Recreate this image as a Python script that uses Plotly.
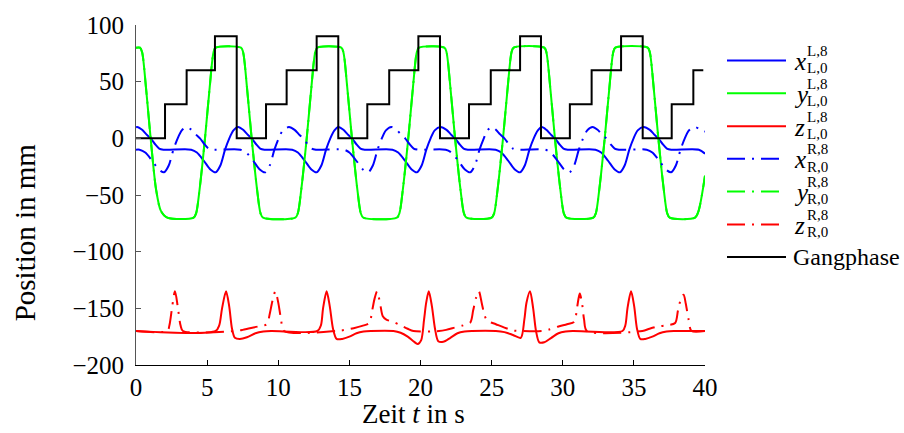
import plotly.graph_objects as go

# ---------------- data ----------------
t_xL = [0, 0.08, 0.43, 0.73, 1.03, 1.33, 1.63, 1.93, 3.88, 4.28, 4.78, 5.23, 5.6, 5.93, 6.26, 6.56, 6.85, 7.18,
        7.53, 7.83, 8.13, 8.43, 8.73, 9.03, 10.98, 11.38, 11.88, 12.33, 12.7, 13.03, 13.36, 13.66, 13.95, 14.23,
        14.58, 14.88, 15.18, 15.48, 15.78, 16.08, 18.03, 18.43, 18.93, 19.38, 19.75, 20.08, 20.41, 20.71, 21.0, 21.4,
        21.83, 22.13, 22.43, 22.73, 23.03, 23.33, 25.28, 25.68, 26.18, 26.63, 27.0, 27.33, 27.66, 27.96, 28.25, 28.52,
        28.85, 29.15, 29.45, 29.75, 30.05, 30.35, 32.3, 32.7, 33.2, 33.65, 34.02, 34.35, 34.68, 34.98, 35.27, 35.68,
        36.12, 36.42, 36.72, 37.02, 37.32, 37.62, 39.57, 40.0]
xL = [9.5, 10, 7.5, 3.5, 0, -5, -9, -10, -10, -12.5, -20, -27.5, -30, -24, -10, 0, 7, 10,
      7.5, 3.5, 0, -5, -9, -10, -10, -12.5, -20, -27.5, -30, -24, -10, 0, 7, 10,
      7.5, 3.5, 0, -5, -9, -10, -10, -12.5, -20, -27.5, -30, -24, -10, 0, 7, 10,
      7.5, 3.5, 0, -5, -9, -10, -10, -12.5, -20, -27.5, -30, -24, -10, 0, 7, 10,
      7.5, 3.5, 0, -5, -9, -10, -10, -12.5, -20, -27.5, -30, -24, -10, 0, 7, 10,
      7.5, 3.5, 0, -5, -9, -10, -10, -13.5]

t_yL = [0, 0.28, 0.43, 0.70, 1.03, 1.41, 1.75, 2.2,
        4.05, 4.23, 4.47, 4.85, 5.18, 5.45, 5.6,
        7.38, 7.53, 7.8, 8.13, 8.51, 8.75, 8.93,
        11.2, 11.38, 11.62, 12.0, 12.33, 12.6, 12.75,
        14.43, 14.58, 14.85, 15.18, 15.56, 15.8, 15.98,
        18.34, 18.52, 18.76, 19.14, 19.47, 19.74, 19.89,
        21.68, 21.83, 22.1, 22.43, 22.81, 23.05, 23.23,
        25.0, 25.18, 25.42, 25.8, 26.13, 26.4, 26.55,
        28.7, 28.85, 29.12, 29.45, 29.83, 30.07, 30.25,
        32.15, 32.33, 32.57, 32.95, 33.28, 33.55, 33.7,
        35.97, 36.12, 36.39, 36.72, 37.1, 37.34, 37.52,
        39.3, 39.55, 40.0]
yL = [80, 80, 76, 45, 0, -45, -64, -70,
      -70, -66, -45, 0, 45, 76, 80,
      80, 76, 45, 0, -45, -66, -70,
      -70, -66, -45, 0, 45, 76, 80,
      80, 76, 45, 0, -45, -66, -70,
      -70, -66, -45, 0, 45, 76, 80,
      80, 76, 45, 0, -45, -66, -70,
      -70, -66, -45, 0, 45, 76, 80,
      80, 76, 45, 0, -45, -66, -70,
      -70, -66, -45, 0, 45, 76, 80,
      80, 76, 45, 0, -45, -66, -70,
      -70, -64, -33]

t_zL = [0, 5.6, 5.85, 6.05, 6.33, 6.55, 6.75, 6.95, 7.3, 7.8, 8.4, 8.95, 9.5,
        12.75, 13.0, 13.15, 13.4, 13.62, 13.85, 14.1, 14.5, 15.0, 15.5, 16.0, 16.5,
        18.1, 18.6, 19.1, 19.5, 19.8, 20.05, 20.25, 20.4, 20.58, 20.8, 21.02, 21.25, 21.6, 22.1, 22.6, 23.1, 23.6,
        25.3, 25.9, 26.5, 27.05, 27.3, 27.45, 27.7, 27.92, 28.12, 28.35, 28.7, 29.2, 29.7, 30.2, 30.7,
        34.2, 34.4, 34.55, 34.8, 35.02, 35.22, 35.45, 35.8, 36.3, 36.8, 37.3, 37.8, 40]
zL = [-170, -170, -165, -150, -135, -148, -168, -176, -177, -175.5, -172, -170.5, -170,
      -170, -165, -150, -135, -148, -168, -177, -177, -175, -172, -170.5, -170,
      -170, -171.5, -175, -179, -181.5, -178, -160, -145, -135, -148, -168, -179, -179.5, -176, -172, -170.5, -170,
      -170, -171, -173.5, -176, -160, -145, -135, -150, -170, -180, -180, -176, -172, -170.5, -170,
      -170, -165, -150, -135, -148, -168, -177, -177, -175, -172, -170.5, -170, -170]

t_xR = [0, 0.25, 0.65, 1.15, 1.6, 1.97, 2.3, 2.63, 2.93, 3.22, 3.55,
        3.9, 4.2, 4.5, 4.8, 5.1, 5.4, 7.35, 7.75, 8.25, 8.7, 9.07, 9.4, 9.73, 10.03, 10.32, 10.75,
        11.15, 11.45, 11.75, 12.05, 12.35, 12.65, 14.6, 15.0, 15.5, 15.95, 16.32, 16.65, 16.98, 17.28, 17.57, 17.95,
        18.32, 18.62, 18.92, 19.22, 19.52, 19.82, 21.77, 22.17, 22.67, 23.12, 23.49, 23.82, 24.15, 24.45, 24.7, 25.0,
        25.3, 25.6, 25.9, 26.2, 26.5, 26.8, 28.75, 29.15, 29.65, 30.1, 30.47, 30.8, 31.13, 31.43, 31.72, 32.1,
        32.45, 32.75, 33.05, 33.35, 33.65, 33.95, 35.9, 36.3, 36.8, 37.25, 37.62, 37.95, 38.28, 38.58, 38.87, 39.25,
        39.65, 40.0]
xR = [-10, -10, -12.5, -20, -27.5, -30, -24, -10, 0, 7, 10,
      7.5, 3.5, 0, -5, -9, -10, -10, -12.5, -20, -27.5, -30, -24, -10, 0, 7, 10,
      7.5, 3.5, 0, -5, -9, -10, -10, -12.5, -20, -27.5, -30, -24, -10, 0, 7, 10,
      7.5, 3.5, 0, -5, -9, -10, -10, -12.5, -20, -27.5, -30, -24, -10, 0, 7, 10,
      7.5, 3.5, 0, -5, -9, -10, -10, -12.5, -20, -27.5, -30, -24, -10, 0, 7, 10,
      7.5, 3.5, 0, -5, -9, -10, -10, -12.5, -20, -27.5, -30, -24, -10, 0, 7, 10,
      8, 6]

# right-foot y coincides with the left-foot y in the picture (hidden beneath it)
t_yR = list(t_yL)
yR = list(yL)

t_zR = [0, 2.2, 2.35, 2.55, 2.74, 2.93, 3.13, 3.3,
        7.0, 7.5, 8.0, 8.6, 9.2, 9.4, 9.6, 9.8, 10.0, 10.2, 10.4,
        14.1, 14.7, 15.3, 15.9, 16.4, 16.6, 16.78, 16.95, 17.15, 17.35, 17.6, 18.1, 18.6, 19.1, 19.5,
        21.3, 21.8, 22.4, 23.0, 23.5, 23.7, 23.9, 24.1, 24.3, 24.5, 24.7, 25.3, 25.9, 26.5, 27.0,
        28.6, 29.1, 29.7, 30.3, 30.8, 31.0, 31.1, 31.2, 31.35, 31.5, 31.7,
        35.6, 36.1, 36.7, 37.3, 37.9, 38.1, 38.3, 38.5, 38.65, 38.85, 39.05, 40]
zR = [-170, -170, -165, -148, -135, -148, -165, -170,
      -170, -169, -167.5, -166, -164, -155, -143, -135, -145, -160, -170,
      -170, -169, -167.5, -165.5, -163, -152, -141, -135, -145, -157, -160, -162, -165, -168, -170,
      -170, -169, -167, -165, -162.5, -152, -141, -135, -145, -156, -161, -164, -167, -169.5, -170,
      -170, -168.5, -166, -164, -162, -150, -142, -137, -145, -160, -170,
      -170, -168, -166, -165, -163, -152, -142, -138, -146, -160, -170, -170]

t_gang = [0, 2.04, 3.56, 5.55, 7.08, 9.14, 10.59, 12.7, 14.22, 16.26, 17.8, 19.85,
          21.37, 23.41, 24.94, 27.0, 28.47, 30.5, 32.03, 34.1, 35.62, 37.66, 39.18, 39.88]
gang = [0, 30, 60, 90, 0, 30, 60, 90, 0, 30, 60, 90,
        0, 30, 60, 90, 0, 30, 60, 90, 0, 30, 60, 60]

x_ticks = [0, 5, 10, 15, 20, 25, 30, 35, 40]
y_ticks = [-200, -150, -100, -50, 0, 50, 100]

legend_letters = ["x", "y", "z", "x", "y", "z"]
legend_sup = ["L,8", "L,8", "L,8", "R,8", "R,8", "R,8"]
legend_sub = ["L,0", "L,0", "L,0", "R,0", "R,0", "R,0"]

# ---------------- styling ----------------
BLUE, GREEN, RED = "rgb(0,0,255)", "rgb(0,255,0)", "rgb(255,0,0)"
DASHDOT = "18px,7px,2px,7px"
FONT = "Liberation Serif"

series = [
    (t_xL, xL, BLUE, "solid"),
    (t_yR, yR, GREEN, DASHDOT),
    (t_yL, yL, GREEN, "solid"),
    (t_zL, zL, RED, "solid"),
    (t_xR, xR, BLUE, DASHDOT),
    (t_zR, zR, RED, DASHDOT),
]

fig = go.Figure()
for tx, vy, col, dash in series:
    fig.add_trace(go.Scatter(x=tx, y=vy, mode="lines",
                             line=dict(color=col, width=2, dash=dash, shape="spline", smoothing=0.8),
                             showlegend=False, hoverinfo="skip"))
fig.add_trace(go.Scatter(x=t_gang, y=gang, mode="lines",
                         line=dict(color="black", width=2, shape="hv"),
                         showlegend=False, hoverinfo="skip"))

L, R, T, B = 136, 199, 19, 68
W, H = 904, 433
pw, ph = W - L - R, H - T - B


def px(xpix):
    return (xpix - L) / pw


def py(ypix):
    return (H - B - ypix) / ph


shapes = []
annotations = []
leg_y = [55, 88.5, 122, 155, 188.5, 222, 255]
leg_col = [BLUE, GREEN, RED, BLUE, GREEN, RED, "black"]
leg_dash = ["solid", "solid", "solid", DASHDOT, DASHDOT, DASHDOT, "solid"]
for i, yc in enumerate(leg_y):
    shapes.append(dict(type="line", xref="paper", yref="paper",
                       x0=px(727), x1=px(786), y0=py(yc), y1=py(yc),
                       line=dict(color=leg_col[i], width=2, dash=leg_dash[i])))
    if i < 6:
        annotations.append(dict(text="<i>%s</i>" % legend_letters[i], xref="paper", yref="paper",
                                x=px(792), y=py(yc + 1), xanchor="left", yanchor="middle",
                                showarrow=False, font=dict(family=FONT, size=25, color="black")))
        annotations.append(dict(text=legend_sup[i], xref="paper", yref="paper",
                                x=px(805), y=py(yc - 9.5), xanchor="left", yanchor="middle",
                                showarrow=False, font=dict(family=FONT, size=15, color="black")))
        annotations.append(dict(text=legend_sub[i], xref="paper", yref="paper",
                                x=px(805), y=py(yc + 8), xanchor="left", yanchor="middle",
                                showarrow=False, font=dict(family=FONT, size=15, color="black")))
    else:
        annotations.append(dict(text="Gangphase", xref="paper", yref="paper",
                                x=px(791), y=py(yc), xanchor="left", yanchor="middle",
                                showarrow=False, font=dict(family=FONT, size=24, color="black")))

annotations.append(dict(text="Position in mm", xref="paper", yref="paper",
                        x=px(25), y=py(230), xanchor="center", yanchor="middle", textangle=-90,
                        showarrow=False, font=dict(family=FONT, size=29, color="black")))
annotations.append(dict(text="Zeit <i>t</i> in s", xref="paper", yref="paper",
                        x=px(413), y=py(415), xanchor="center", yanchor="middle",
                        showarrow=False, font=dict(family=FONT, size=27, color="black")))

fig.update_layout(
    width=W, height=H,
    margin=dict(l=L, r=R, t=T, b=B),
    plot_bgcolor="white", paper_bgcolor="white",
    showlegend=False,
    font=dict(family=FONT, size=25, color="black"),
    shapes=shapes, annotations=annotations,
    xaxis=dict(range=[0, 40], tickvals=x_ticks, ticktext=[str(v) for v in x_ticks],
               ticks="inside", ticklen=5, tickcolor="black", tickwidth=1,
               showline=True, linecolor="black", linewidth=1,
               showgrid=False, zeroline=False, ticklabelstandoff=0,
               tickfont=dict(family=FONT, size=25, color="black")),
    yaxis=dict(range=[-200, 100], tickvals=y_ticks,
               ticks="inside", ticklen=5, tickcolor="#555", tickwidth=1,
               showline=True, linecolor="#555", linewidth=1,
               showgrid=False, zeroline=False, ticklabelstandoff=6,
               tickfont=dict(family=FONT, size=25, color="black")),
)

fig.write_html("out.html")
